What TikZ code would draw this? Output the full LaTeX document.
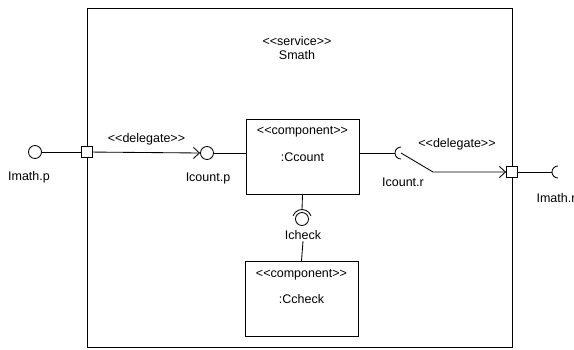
\documentclass[tikz,border=0pt]{standalone}
\usepackage{fontspec}
\setmainfont{Liberation Sans}
\usetikzlibrary{positioning, arrows.meta, calc}
\newcommand{\Stereo}[1]{<\kern0pt<#1>\kern0pt>}
\tikzset{
    comp/.style={draw, rectangle, minimum width=113pt, minimum height=75pt, inner sep=0pt},
    port/.style={draw, rectangle, minimum size=11pt, inner sep=0pt, fill=white},
    ball/.style={draw, circle, minimum size=13pt, inner sep=0pt},
    txt/.style={inner sep=1pt, font=\fontsize{12.5}{14}\selectfont},
    deleg/.style={-{Straight Barb[length=6pt, width=11pt]}},
}

\begin{document}
\begin{tikzpicture}[x=1pt, y=-1pt, line width=0.85pt]
    \useasboundingbox (0,0) rectangle (574,349);

    % service
    \node[draw, rectangle, minimum width=425pt, minimum height=339pt, inner sep=0pt] (smath) at (299.5,177.5) {};
    \node[txt] (smathst) at (297,41) {\Stereo{service}};
    \node[txt, below=2pt of smathst] (smathnm) {Smath};

    % components
    \node[comp] (ccount) at (302.5,156.5) {};
    \node[txt] (ccountst) at (302.5,132) {\Stereo{component}};
    \node[txt] (ccountnm) at (302.5,157) {:Ccount};

    \node[comp] (ccheck) at (301.5,299) {};
    \node[txt] (ccheckst) at (301.5,275) {\Stereo{component}};
    \node[txt] (ccheckn) at (301.5,299) {:Ccheck};

    % ports
    \node[port] (pin) at (87,152) {};
    \node[port] (pout) at (512,172) {};

    % provided / required interfaces
    \node[ball] (imathp) at (35,152) {};
    \node[txt] (imathplbl) at (29,177) {Imath.p};
    \node[ball] (icountp) at (207,153) {};
    \node[txt] (icountplbl) at (208,178) {Icount.p};
    \node[ball] (icheckball) at (302,219) {};
    \node[txt] (icheck) at (303,235) {Icheck};
    \coordinate (icountr) at (401,153);
    \node[txt] (icountrlbl) at (403,182) {Icount.r};
    \coordinate (imathr) at (558,172);
    \node[txt] (imathrlbl) at (556,198) {Imath.r};

    \draw (imathp) -- (pin);
    \draw (icountp) -- (icountp -| ccount.west);
    \draw (icountr -| ccount.east) -- ($(icountr)+(-6,0)$);
    \draw ($(icountr)+(0,-6)$) arc[start angle=90, end angle=270, radius=6pt];
    \draw (pout) -- ($(imathr)+(-6,0)$);
    \draw ($(imathr)+(0,-6)$) arc[start angle=90, end angle=270, radius=6pt];
    \draw (ccount.south) -- ($(icheckball)+(0,-9.5)$);
    \draw ($(icheckball)+(8.93,-3.25)$) arc[start angle=20, end angle=160, radius=9.5pt];
    \draw (icheck.south) -- (ccheck.north);

    % delegations
    \coordinate (dbend) at (433,172);
    \draw[deleg] (pin) -- (icountp.west) node[txt, midway, above=6pt] (dleft) {\Stereo{delegate}};
    \draw[deleg] (icountr) -- (dbend) -- (pout.west);
    \node[txt] (dright) at (457,144) {\Stereo{delegate}};
\end{tikzpicture}
\end{document}
